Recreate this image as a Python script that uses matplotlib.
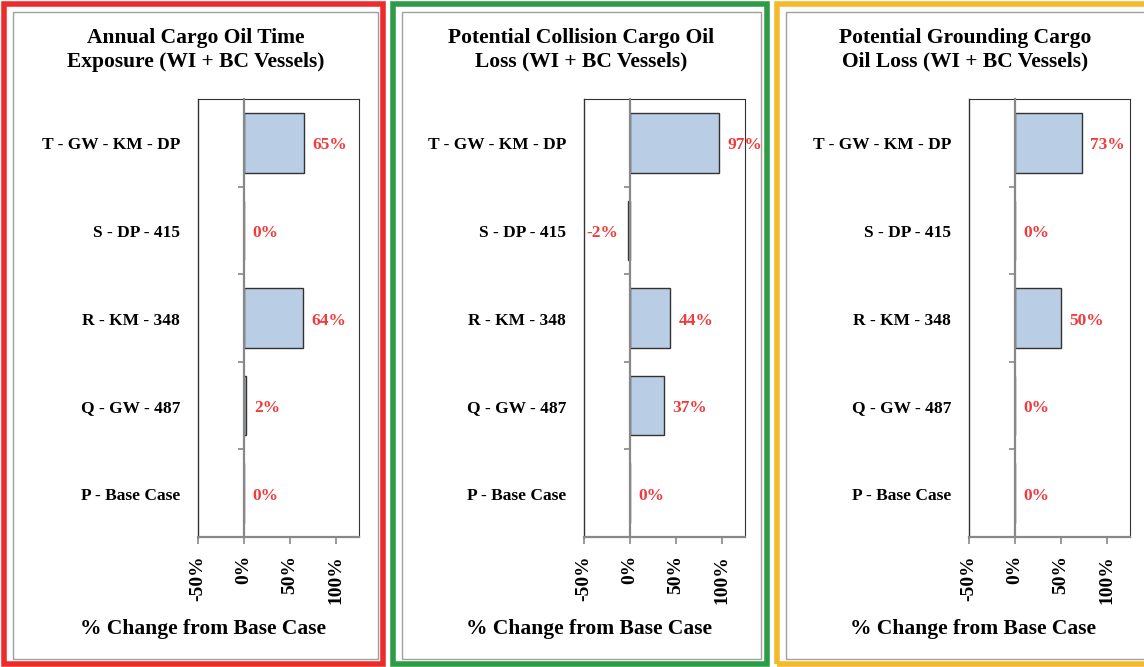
import numpy as np
import matplotlib.pyplot as plt
from matplotlib.patches import Rectangle
from matplotlib.transforms import blended_transform_factory

plt.rcParams['font.family'] = ['Liberation Serif', 'DejaVu Serif']
plt.rcParams['font.weight'] = 'bold'

categories = ['P - Base Case', 'Q - GW - 487', 'R - KM - 348', 'S - DP - 415', 'T - GW - KM - DP']
titles = ['Annual Cargo Oil Time\nExposure (WI + BC Vessels)',
          'Potential Collision Cargo Oil\nLoss (WI + BC Vessels)',
          'Potential Grounding Cargo\nOil Loss (WI + BC Vessels)']
exposure = [0, 2, 64, 0, 65]
collision = [0, 37, 44, -2, 97]
grounding = [0, 0, 50, 0, 73]
series = [exposure, collision, grounding]
xticks = [-50, 0, 50, 100]
border_colors = ['#EE2B2B', '#2E9B47', '#F4BA2B']

W, H = 1144, 667
fig = plt.figure(figsize=(W / 100, H / 100), dpi=100)

# panel frames in pixels: (outer left, outer right, inner left, inner right)
frames = [(4, 383, 13, 378), (393, 767, 402, 761), (777, 1152, 786, 1150)]
ax_left = [198, 584, 969]
ax_w, ax_top, ax_bot = 161, 99, 537

for i in range(3):
    ol, orr, il, ir = frames[i]
    fig.patches.append(Rectangle((ol / W, 3.5 / H), (orr - ol) / W, (H - 7) / H,
                                 transform=fig.transFigure, fill=False,
                                 edgecolor=border_colors[i], lw=4, zorder=0))
    fig.patches.append(Rectangle((il / W, 8 / H), (ir - il) / W, (H - 20) / H,
                                 transform=fig.transFigure, fill=False,
                                 edgecolor='#a0a0a0', lw=1, zorder=0))

    ax = fig.add_axes([ax_left[i] / W, 1 - ax_bot / H, ax_w / W, (ax_bot - ax_top) / H])
    vals = np.array(series[i])
    y = np.arange(len(categories))
    ax.barh(y, vals / 100, height=0.68, color='#B9CDE5', edgecolor='#333333', lw=1, zorder=2)
    ax.set_xlim(-0.5, 1.25)
    ax.set_ylim(-0.5, len(categories) - 0.5)

    for s in ['top', 'right']:
        ax.spines[s].set_color('#333333')
    ax.spines['left'].set_position(('data', 0))
    ax.spines['left'].set_color('#888888')
    ax.spines['left'].set_linewidth(1.6)
    ax.spines['left'].set_zorder(3)
    ax.spines['bottom'].set_color('#888888')
    ax.spines['bottom'].set_linewidth(1.6)
    ax.plot([0, 0], [0, 1], transform=ax.transAxes, color='#333333', lw=1, clip_on=False)

    ax.set_yticks(y)
    ax.set_yticklabels([])
    ax.tick_params(axis='y', which='major', length=0)
    ax.set_yticks(np.arange(len(categories) - 1) + 0.5, minor=True)
    ax.tick_params(axis='y', which='minor', length=4, color='#888888', width=1.2)

    ax.set_xticks(np.array(xticks) / 100)
    ax.set_xticklabels([f'{t}%' for t in xticks], rotation=90, fontsize=14, fontweight='bold')
    ax.tick_params(axis='x', length=5, color='#888888', width=1.2, pad=8)

    tr = blended_transform_factory(ax.transAxes, ax.transData)
    for k, c in enumerate(categories):
        ax.text(-0.11, k - 0.03, c, transform=tr, ha='right', va='center', fontsize=12.5, fontweight='bold')

    for k, v in enumerate(vals):
        if v < 0:
            ax.annotate(f'{v}%', (v / 100, k - 0.03), xytext=(-7, 0), textcoords='offset points',
                        ha='right', va='center', color='#F03C3C', fontsize=12.5, fontweight='bold')
        else:
            ax.annotate(f'{v}%', (v / 100, k - 0.03), xytext=(6, 0), textcoords='offset points',
                        ha='left', va='center', color='#F03C3C', fontsize=12.5, fontweight='bold')

    cx = (il + min(ir, W)) / 2
    fig.text(cx / W, 1 - 50 / H, titles[i], ha='center', va='center', fontsize=15.5,
             fontweight='bold', linespacing=1.2)
    fig.text((cx + 8) / W, 1 - 629 / H, '% Change from Base Case', ha='center', va='center',
             fontsize=15.5, fontweight='bold')

fig.savefig('out.png', dpi=100)
